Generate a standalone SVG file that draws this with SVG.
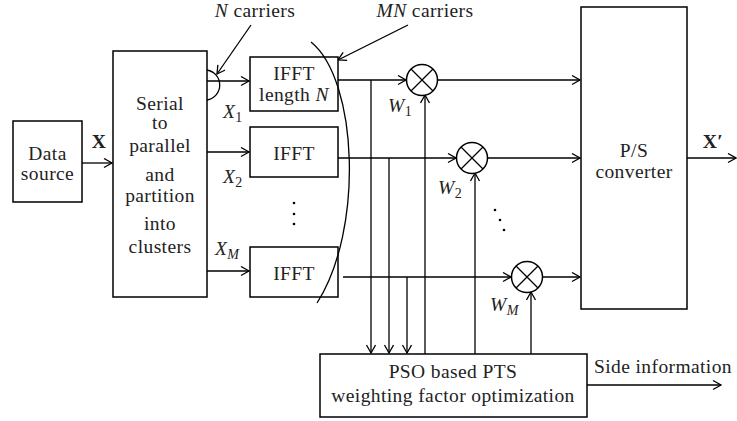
<svg xmlns="http://www.w3.org/2000/svg" width="737" height="421" viewBox="0 0 737 421">
<style>
.b{fill:#fff;stroke:#000;stroke-width:1.5}
.l{fill:none;stroke:#000;stroke-width:1.3}
text{font-family:'Liberation Serif','DejaVu Serif',serif}
.t{font-size:19.5px;letter-spacing:0.4px;fill:#222;text-anchor:middle}
.st{text-anchor:start}
.i{font-style:italic}
.bd{font-weight:bold}
.s{font-size:14px;letter-spacing:0}
</style>
<defs>
<marker id="a" markerUnits="userSpaceOnUse" markerWidth="12" markerHeight="12" refX="9" refY="5" orient="auto">
<path d="M1,0.5 L9,5 L1,9.5" fill="none" stroke="#000" stroke-width="1.3"/>
</marker>
</defs>
<rect width="737" height="421" fill="#fff"/>

<g id="connectors" class="l">
<line x1="82" y1="163" x2="112" y2="163" marker-end="url(#a)"/>
<line x1="207" y1="81" x2="249" y2="81" marker-end="url(#a)"/>
<line x1="207" y1="152" x2="249" y2="152" marker-end="url(#a)"/>
<line x1="207" y1="271" x2="249" y2="271" marker-end="url(#a)"/>
<line x1="338" y1="80" x2="406" y2="80" marker-end="url(#a)"/>
<line x1="338" y1="158" x2="456" y2="158" marker-end="url(#a)"/>
<line x1="343" y1="277" x2="511" y2="277" marker-end="url(#a)"/>
<line x1="437" y1="80" x2="580" y2="80" marker-end="url(#a)"/>
<line x1="487" y1="158" x2="580" y2="158" marker-end="url(#a)"/>
<line x1="542" y1="277" x2="580" y2="277" marker-end="url(#a)"/>
<line x1="687" y1="158" x2="736" y2="158" marker-end="url(#a)"/>
<line x1="371" y1="80" x2="371" y2="353" marker-end="url(#a)"/>
<line x1="389" y1="158" x2="389" y2="353" marker-end="url(#a)"/>
<line x1="407" y1="277" x2="407" y2="353" marker-end="url(#a)"/>
<line x1="425" y1="354" x2="425" y2="95" marker-end="url(#a)"/>
<line x1="475" y1="354" x2="475" y2="173" marker-end="url(#a)"/>
<line x1="531" y1="354" x2="531" y2="292" marker-end="url(#a)"/>
<line x1="587" y1="385" x2="721" y2="385" marker-end="url(#a)"/>
<line x1="251" y1="25" x2="217" y2="74" marker-end="url(#a)"/>
<line x1="408" y1="25" x2="338" y2="60" marker-end="url(#a)"/>
</g>

<g id="data-source">
<rect class="b" x="13" y="121" width="69" height="81"/>
<text class="t" x="47.5" y="160">Data</text>
<text class="t" x="47.5" y="180">source</text>
</g>
<text class="t bd" x="99" y="148">X</text>

<g id="sp">
<rect class="b" x="113" y="51" width="94" height="246"/>
<text class="t" x="160" y="110">Serial</text>
<text class="t" x="160" y="129">to</text>
<text class="t" x="160" y="152">parallel</text>
<text class="t" x="160" y="181">and</text>
<text class="t" x="160" y="202">partition</text>
<text class="t" x="160" y="230">into</text>
<text class="t" x="160" y="253">clusters</text>
</g>

<g id="ifft1">
<rect class="b" x="250" y="57" width="88" height="54"/>
<text class="t" x="294" y="80">IFFT</text>
<text class="t" x="294" y="101">length <tspan class="i">N</tspan></text>
</g>
<g id="ifft2">
<rect class="b" x="250" y="127" width="88" height="50"/>
<text class="t" x="294" y="160">IFFT</text>
</g>
<g id="ifftm">
<rect class="b" x="250" y="247" width="88" height="50"/>
<text class="t" x="294" y="280">IFFT</text>
</g>

<g id="brackets" class="l">
<path d="M207,70 A15.2,15.2 0 0 1 207,100"/>
<path d="M311,42 C358,80 364,230 317,303"/>
</g>

<g id="dots" fill="#000">
<circle cx="294" cy="203" r="1.3"/><circle cx="294" cy="214" r="1.3"/><circle cx="294" cy="224" r="1.3"/>
<circle cx="495" cy="210" r="1.3"/><circle cx="500" cy="220" r="1.3"/><circle cx="504" cy="230" r="1.3"/>
</g>

<text class="t i st" x="223" y="118">X<tspan class="s" font-style="normal" dy="4">1</tspan></text>
<text class="t i st" x="223" y="183">X<tspan class="s" font-style="normal" dy="4">2</tspan></text>
<text class="t i st" x="215" y="255">X<tspan class="s" dy="4">M</tspan></text>

<text class="t" x="255" y="17"><tspan class="i">N</tspan> carriers</text>
<text class="t" x="425" y="17"><tspan class="i">MN</tspan> carriers</text>

<g id="mult1">
<circle class="b" cx="422" cy="80" r="15.5"/>
<path class="l" d="M411,69 L433,91 M433,69 L411,91"/>
</g>
<g id="mult2">
<circle class="b" cx="472" cy="158" r="15.5"/>
<path class="l" d="M461,147 L483,169 M483,147 L461,169"/>
</g>
<g id="multm">
<circle class="b" cx="527" cy="277" r="15.5"/>
<path class="l" d="M516,266 L538,288 M538,266 L516,288"/>
</g>

<text class="t i st" x="388" y="112">W<tspan class="s" font-style="normal" dy="4">1</tspan></text>
<text class="t i st" x="438" y="194">W<tspan class="s" font-style="normal" dy="4">2</tspan></text>
<text class="t i st" x="490" y="311">W<tspan class="s" dy="4">M</tspan></text>

<g id="ps">
<rect class="b" x="581" y="7" width="106" height="302"/>
<text class="t" x="634" y="157">P/S</text>
<text class="t" x="634" y="178">converter</text>
</g>
<text class="t bd" x="713" y="148">X′</text>

<g id="pso">
<rect class="b" x="320" y="354" width="267" height="63"/>
<text class="t" x="453" y="378">PSO based PTS</text>
<text class="t" x="453" y="402">weighting factor optimization</text>
</g>
<text class="t" x="663" y="373">Side information</text>
</svg>
